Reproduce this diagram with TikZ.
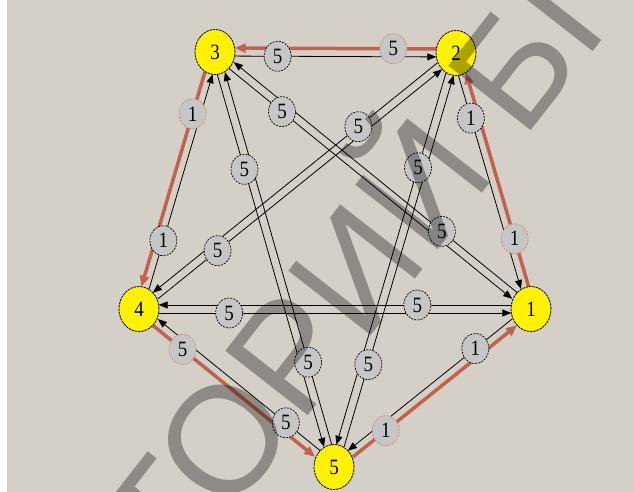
\documentclass[tikz,border=0pt]{standalone}
\usepackage{fontspec}
\usepackage{graphicx}
\newfontfamily\digitfont{Liberation Serif}
\newfontfamily\wmfont{Liberation Sans}
\usetikzlibrary{calc,arrows.meta,shapes.geometric}
\definecolor{bgc}{RGB}{212,208,200}
\definecolor{pathred}{RGB}{192,98,78}
\definecolor{lblgray}{RGB}{198,198,198}
\definecolor{lblred}{RGB}{216,132,114}
\pgfdeclarelayer{bglayer}
\pgfdeclarelayer{edgelayer}
\pgfsetlayers{bglayer,edgelayer,main}
\newcommand\dg[1]{\scalebox{1}[1.15]{#1}}
\newcommand\gline[4]{\draw[#4edge, shorten <=#3pt, shorten >=#3pt] ($(#1)!4pt!-90:(#2)$) -- ($(#2)!4pt!90:(#1)$);}
\newcommand\glabel[5]{\path ($(#1)!4pt!-90:(#2)$) -- ($(#2)!4pt!90:(#1)$) node[pos=#3, #5lbl] {\dg{#4}};}
\tikzset{
  vert/.style={ellipse, draw=black, line width=0.8pt, dash pattern=on 2.5pt off 0.8pt,
    fill=yellow, minimum width=40pt, minimum height=45pt, inner sep=0pt,
    font=\digitfont\fontsize{19}{19}\selectfont},
  blbl/.style={ellipse, draw=black, line width=0.7pt, dash pattern=on 2pt off 1.2pt,
    fill=lblgray, minimum width=27pt, minimum height=30pt, inner sep=0pt,
    font=\digitfont\fontsize{19}{19}\selectfont},
  rlbl/.style={blbl, draw=lblred},
  bedge/.style={draw=black, line width=0.8pt, -{Triangle[length=9pt,width=7pt]}},
  redge/.style={draw=pathred, line width=3.5pt, -{Triangle[length=11pt,width=9pt]}}
}
\begin{document}
\begin{tikzpicture}[x=1pt,y=-1pt]
\useasboundingbox (0,0) rectangle (634,492);
\begin{pgfonlayer}{bglayer}
  \fill[bgc] (0,0) rectangle (634,492);
  \fill[white] (0,0) rectangle (7,492);
\end{pgfonlayer}
% vertices
\node[vert] (n1) at (531,309) {\dg{1}};
\node[vert] (n2) at (456,53) {\dg{2}};
\node[vert] (n3) at (215,52) {\dg{3}};
\node[vert] (n4) at (139,309) {\dg{4}};
\node[vert] (n5) at (334,467) {\dg{5}};
\begin{pgfonlayer}{edgelayer}
  % black edges
  \gline{n3}{n2}{19.7}{b}
  \gline{n4}{n1}{19.7}{b}
  \gline{n1}{n4}{19.7}{b}
  \gline{n4}{n3}{22}{b}
  \gline{n2}{n1}{22}{b}
  \gline{n5}{n4}{21}{b}
  \gline{n1}{n5}{21}{b}
  \gline{n3}{n1}{21}{b}
  \gline{n1}{n3}{21}{b}
  \gline{n3}{n5}{22}{b}
  \gline{n5}{n3}{22}{b}
  \gline{n2}{n4}{21}{b}
  \gline{n4}{n2}{21}{b}
  \gline{n2}{n5}{22}{b}
  \gline{n5}{n2}{22}{b}
  % red path
  \gline{n2}{n3}{19.7}{r}
  \gline{n3}{n4}{22}{r}
  \gline{n4}{n5}{21}{r}
  \gline{n5}{n1}{21}{r}
  \gline{n1}{n2}{22}{r}
\end{pgfonlayer}
% weight labels
\glabel{n3}{n2}{0.26}{5}{b}
\glabel{n2}{n3}{0.26}{5}{r}
\glabel{n4}{n1}{0.23}{5}{b}
\glabel{n1}{n4}{0.29}{5}{b}
\glabel{n3}{n4}{0.245}{1}{r}
\glabel{n4}{n3}{0.27}{1}{b}
\glabel{n2}{n1}{0.25}{1}{b}
\glabel{n1}{n2}{0.27}{1}{r}
\glabel{n4}{n5}{0.236}{5}{r}
\glabel{n5}{n4}{0.26}{5}{b}
\glabel{n5}{n1}{0.25}{1}{r}
\glabel{n1}{n5}{0.27}{1}{b}
\glabel{n3}{n1}{0.22}{5}{b}
\glabel{n1}{n3}{0.29}{5}{b}
\glabel{n3}{n5}{0.28}{5}{b}
\glabel{n5}{n3}{0.25}{5}{b}
\glabel{n2}{n4}{0.30}{5}{b}
\glabel{n4}{n2}{0.24}{5}{b}
\glabel{n2}{n5}{0.28}{5}{b}
\glabel{n5}{n2}{0.25}{5}{b}
% watermark
\begin{scope}
  \clip (0,0) rectangle (634,492);
  \node[rotate=52, anchor=base west, inner sep=0pt, text=black, text opacity=0.33,
    font=\wmfont\fontsize{152}{152}\selectfont] (wm) at (175,587) {ТОРИЙ БГУ};
\end{scope}
\end{tikzpicture}
\end{document}
